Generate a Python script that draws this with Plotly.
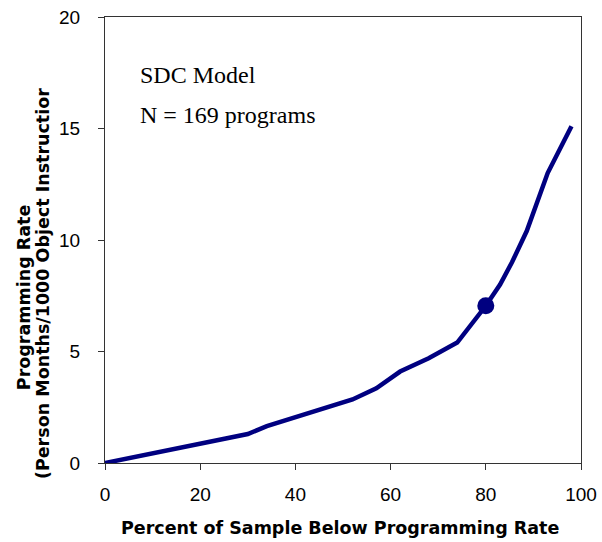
import plotly.graph_objects as go

# Data
pct_below = [0, 10, 20, 30, 34, 40, 47, 52, 57, 62, 68, 74, 80, 83, 85.5, 88.6, 93, 98]
prog_rate = [0, 0.45, 0.9, 1.3, 1.65, 2.05, 2.5, 2.85, 3.35, 4.1, 4.7, 5.4, 7.05, 8.0, 9.0, 10.4, 13.0, 15.1]
highlight_x = [80]
highlight_y = [7.05]
x_ticks = [0, 20, 40, 60, 80, 100]
y_ticks = [0, 5, 10, 15, 20]

NAVY = "#000080"
AXC = "#333333"

fig = go.Figure()
fig.add_trace(go.Scatter(x=pct_below, y=prog_rate, mode="lines",
                         line=dict(color=NAVY, width=4.5), showlegend=False,
                         hoverinfo="skip"))
fig.add_trace(go.Scatter(x=highlight_x, y=highlight_y, mode="markers",
                         marker=dict(color=NAVY, size=17), showlegend=False))

tick_font = dict(family="Liberation Sans, Arial, sans-serif", size=19, color="#000000")
title_font = dict(family="DejaVu Sans, sans-serif", size=17.5, color="#000000", weight="bold")

fig.update_xaxes(range=[0, 100], tickvals=x_ticks, ticks="outside", ticklen=6,
                 tickcolor=AXC, showline=True, linecolor=AXC, linewidth=1, mirror=True,
                 showgrid=False, zeroline=False, tickfont=tick_font, ticklabelstandoff=8,
                 automargin=False, ticklabeloverflow="allow")
fig.update_yaxes(range=[0, 20], tickvals=y_ticks, ticks="outside", ticklen=6,
                 tickcolor=AXC, showline=True, linecolor=AXC, linewidth=1, mirror=True,
                 showgrid=False, zeroline=False, tickfont=tick_font, ticklabelstandoff=14,
                 automargin=False, ticklabeloverflow="allow")

serif = dict(family="Liberation Serif, Times New Roman, serif", size=24, color="#000000")
fig.add_annotation(text="SDC Model", xref="paper", yref="paper", x=0.069, y=0.87,
                   xanchor="left", yanchor="middle", showarrow=False, font=serif)
fig.add_annotation(text="N = 169 programs", xref="paper", yref="paper", x=0.069, y=0.78,
                   xanchor="left", yanchor="middle", showarrow=False, font=serif)

fig.add_annotation(text="Percent of Sample Below Programming Rate", xref="paper", yref="paper",
                   x=0.4947, y=-0.1457, xanchor="center", yanchor="middle",
                   showarrow=False, font=title_font)
fig.add_annotation(text="Programming Rate", xref="paper", yref="paper",
                   x=-0.170, y=0.372, xanchor="center", yanchor="middle", textangle=-90,
                   showarrow=False, font=title_font)
fig.add_annotation(text="(Person Months/1000 Object Instructior", xref="paper", yref="paper",
                   x=-0.129, y=0.4025, xanchor="center", yanchor="middle", textangle=-90,
                   showarrow=False, font=title_font)

fig.update_layout(width=602, height=542, margin=dict(l=105, r=21, t=17, b=79, autoexpand=False),
                  plot_bgcolor="white", paper_bgcolor="white")

# remove the default 8px page margin so the 602x542 figure fills the window exactly
fig.write_html("out.html", config={"displayModeBar": False},
               post_script="document.body.style.margin='0';document.body.style.overflow='hidden';")
